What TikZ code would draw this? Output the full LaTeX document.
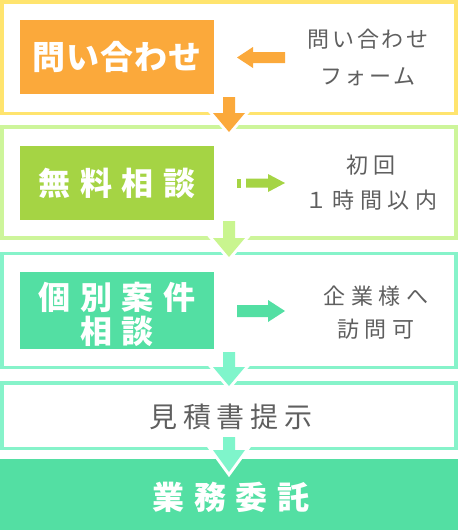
\documentclass[tikz,border=0pt]{standalone}
\usepackage{fontspec}
\newfontfamily\jpT[LetterSpace=3]{Noto Sans CJK JP}
\newfontfamily\jpW[LetterSpace=30]{Noto Sans CJK JP}
\newfontfamily\jpG[LetterSpace=12]{Noto Sans CJK JP}
\newfontfamily\jpM[LetterSpace=25]{Noto Sans CJK JP}
\newfontfamily\jpE[LetterSpace=20]{Noto Sans CJK JP}
\definecolor{cOrange}{HTML}{FBA93B}
\definecolor{cYellow}{HTML}{FFE46E}
\definecolor{cGreen}{HTML}{A5D444}
\definecolor{cLGreen}{HTML}{CDF59A}
\definecolor{cLGreenArr}{HTML}{C9F58F}
\definecolor{cMint}{HTML}{53DFA3}
\definecolor{cLMint}{HTML}{86F3CA}
\definecolor{cMintArr}{HTML}{7FF5CB}
\definecolor{cGray}{HTML}{5F5F5F}
\newcommand\mydownarrow[4]{%
  \begin{scope}[shift={(#1)}]
    \draw[white,line width=6pt,line join=miter]
      (-6,0) -- (6,0) -- (6,#2) -- (16,#2) -- (0,#3) -- (-16,#2) -- (-6,#2) -- cycle;
    \fill[#4]
      (-6,0) -- (6,0) -- (6,#2) -- (16,#2) -- (0,#3) -- (-16,#2) -- (-6,#2) -- cycle;
  \end{scope}}
\begin{document}
\begin{tikzpicture}[x=1pt,y=-1pt,
  panel/.style={line width=3.5pt, fill=white},
  stepbox/.style={minimum width=194pt, inner sep=0pt, text=white, align=center},
  sidetext/.style={text=cGray, align=center, inner sep=0pt}]
\useasboundingbox (0,0) rectangle (458,530);
% panels
\draw[panel, draw=cYellow] (2,2) rectangle (456,113.5);
\draw[panel, draw=cLGreen] (2,127) rectangle (456,238);
\draw[panel, draw=cLMint] (2,253.5) rectangle (456,367.5);
\draw[panel, draw=cLMint] (2,383) rectangle (456,448.5);
\fill[cMint] (0,459) rectangle (458,530);
% step boxes
\node[stepbox, fill=cOrange, minimum height=74pt,
  font={\jpT\bfseries\fontsize{33}{40}\selectfont}] (b1) at (117,57) {問い合わせ};
\node[stepbox, fill=cGreen, minimum height=74pt,
  font={\jpW\bfseries\fontsize{32}{40}\selectfont}] (b2) at (117,183) {無料相談};
\fill[cMint] (20,272) rectangle (214,349);
\node[stepbox, minimum height=0pt,
  font={\jpW\bfseries\fontsize{32}{34}\selectfont}] (b3) at (117,314) {個別案件\\相談};
\node[text=cGray, inner sep=0pt, font={\jpE\fontsize{28}{34}\selectfont}] (b4) at (231,417) {見積書提示};
\node[text=white, inner sep=0pt, font={\jpW\bfseries\fontsize{32}{40}\selectfont}] (b5) at (231,497) {業務委託};
% side texts
\node[sidetext, font={\jpG\fontsize{22}{37}\selectfont}] (t1) at (368,57) {問い合わせ\\フォーム};
\node[sidetext, font={\jpM\fontsize{22}{35}\selectfont}] (t2) at (371,183) {初回\\１時間以内};
\node[sidetext, font={\jpM\fontsize{22}{33}\selectfont}] (t3) at (376,313) {企業様へ\\訪問可};
% side arrows
\coordinate (l1) at (237,57.5);
\fill[cOrange] (l1) -- ++(16,-10.5) -- ++(0,5) -- (285,52) -- (285,63) -- (253,63) -- ++(0,5) -- cycle;
\coordinate (r2) at (285,183);
\fill[cGreen] (237,179) rectangle (241,188);
\fill[cGreen] (r2) -- (268,174) -- (268,178.5) -- (246,178.5) -- (246,187.5) -- (268,187.5) -- (268,192) -- cycle;
\coordinate (r3) at (285,311);
\fill[cMint] (r3) -- (268,300) -- (268,305) -- (237,305) -- (237,317) -- (268,317) -- (268,322) -- cycle;
% down arrows
\coordinate (d1) at (229,97);
\coordinate (d2) at (229,221);
\coordinate (d3) at (229,352);
\coordinate (d4) at (229,437);
\mydownarrow{d1}{16}{35}{cOrange}
\mydownarrow{d2}{17}{36}{cLGreenArr}
\mydownarrow{d3}{15}{34}{cMintArr}
\mydownarrow{d4}{13}{35}{cMintArr}
\end{tikzpicture}
\end{document}
